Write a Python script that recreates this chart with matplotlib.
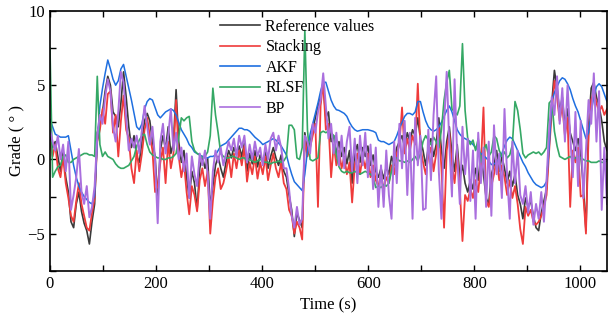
import numpy as np
import matplotlib
matplotlib.use("Agg")
import matplotlib.pyplot as plt
from matplotlib.ticker import MultipleLocator

plt.rcParams['font.family'] = ['Liberation Serif', 'DejaVu Serif']

# Values, one sample about every 5 s (0 .. 1050 s)
reference = [
    1.5, 0.8, 1.2, 0.2, -0.8, 0.5, -1.2, -2.2, -4.2, -4.6,
    -3.0, -2.2, -3.5, -4.3, -4.8, -5.7, -4.2, -3.0, 1.8, 2.6,
    3.2, 4.6, 5.6, 5.0, 3.2, 2.9, 2.2, 3.8, 5.9, 4.2,
    2.2, 0.8, 1.6, 0.2, -0.2, 1.2, 2.6, 3.1, 2.6, 1.2,
    0.2, -2.6, 0.6, 1.6, 0.7, 2.2, 0.4, 1.1, 4.7, 1.2,
    -0.2, 0.6, -1.2, -2.6, -0.8, -1.6, -3.4, -0.6, 0.2, -0.6,
    0.1, -3.2, -1.8, -0.4, 0.2, -0.6, -1.2, -0.2, 0.6, 0.1,
    0.8, 0.3, 0.9, 0.2, 1.1, -0.8, 0.4, -0.3, 0.6, -0.5,
    0.3, -0.2, 0.5, -0.6, 0.2, 0.8, 0.1, -0.4, 0.3, -0.8,
    -1.2, -2.4, -3.4, -5.2, -3.6, -4.1, -4.6, 1.8, 0.6, 1.1,
    2.0, 2.8, 3.6, 4.2, 5.0, 2.8, 3.2, 1.2, 1.6, 0.4,
    1.2, 0.2, 0.8, -0.3, 0.6, -1.6, 0.4, 1.0, -0.2, 0.8,
    0.2, 0.9, -0.4, 0.3, -0.8, -1.2, -0.6, -1.3, -0.5, -1.0,
    0.2, -0.4, 0.8, 1.2, 1.6, 0.8, 1.8, 1.2, 2.0, 1.6,
    2.8, 1.4, 0.6, -0.4, 0.8, 1.4, 0.2, 1.0, 2.8, 0.6,
    -0.6, 1.2, 2.2, 0.4, -0.8, 1.0, -1.2, -0.4, -1.6, -2.2,
    -1.4, -2.0, -0.6, -1.4, 0.4, -1.0, -2.6, -3.0, -1.0, -0.4,
    0.6, -0.8, 0.2, -0.6, -1.6, -0.8, -1.8, -1.0, -2.4, -3.0,
    -4.0, -2.6, -3.2, -2.8, -3.8, -4.6, -4.8, -3.6, -2.8, -2.0,
    1.2, 3.8, 6.0, 4.8, 3.2, 4.2, 2.2, 3.4, 1.8, 1.2,
    0.6, 1.4, 0.4, -1.8, -4.8, 2.2, 4.8, 5.2, 4.2, 3.6,
    2.6, 1.2, 0.6,
]
stacking = [
    1.2, 0.2, 1.0, -0.6, -1.2, 0.2, -1.6, -2.6, -3.8, -4.2,
    -2.8, -1.6, -3.0, -3.8, -4.6, -4.8, -3.6, -2.6, 1.2, 2.0,
    3.4, 2.4, 4.4, 4.6, 1.8, 3.0, 0.2, 2.6, 4.3, 2.0,
    1.4, -0.6, -1.6, 0.6, -0.8, 0.4, 2.0, 2.8, 1.6, 0.6,
    -2.2, -1.8, -0.2, 0.8, -1.6, 1.2, -0.6, 0.4, 4.0, 0.2,
    -1.2, -0.2, -2.2, -3.7, -1.8, -2.4, -3.5, -1.4, -0.6, -1.8,
    -0.8, -5.0, -2.8, -1.2, -0.6, -2.0, -1.6, -0.8, 0.2, -1.2,
    0.4, -0.6, 0.6, -0.4, 0.9, -1.5, -0.2, -1.0, 0.2, -1.3,
    -0.2, -1.0, 0.2, -1.4, -0.4, 0.4, -0.6, -1.2, -0.2, -1.6,
    -2.0, -3.4, -3.8, -5.0, -4.2, -4.6, -5.4, 1.4, 0.2, 0.8,
    1.6, 2.4, -3.2, 3.6, 5.2, 2.0, 2.4, -1.2, 1.0, -0.4,
    0.6, -0.6, 0.2, -1.0, -0.2, -2.9, -0.4, 0.4, -1.0, 0.2,
    -0.6, 0.4, -1.2, -0.4, -1.4, -1.8, -1.0, -2.0, -1.2, -1.6,
    -0.4, -1.0, 0.4, 1.0, 3.5, 0.4, 1.4, 0.6, 1.6, 1.0,
    5.1, 0.8, -0.2, -1.0, 0.2, 0.8, -0.8, 0.4, 2.2, -0.6,
    -4.6, 0.6, 1.8, -0.4, -1.6, 0.4, -2.0, -5.5, -2.4, -2.8,
    -2.0, -2.6, -1.4, -2.2, -0.4, 3.5, -2.8, -3.2, -1.8, -1.0,
    0.0, -1.4, -0.4, -1.2, -2.4, -1.4, -2.6, -1.8, -3.0, -4.7,
    -5.7, -3.2, -3.8, -3.4, -4.2, -4.4, -4.2, -3.8, -3.2, -2.4,
    0.6, 3.2, 5.3, 4.2, 2.6, 3.6, 1.6, 2.8, -3.2, 0.6,
    -0.2, 0.8, -2.5, -2.4, -5.0, 1.6, 4.0, 4.6, 3.8, 3.2,
    3.6, 3.0, 3.4,
]
akf = [
    2.7, 2.2, 1.7, 1.6, 1.5, 1.5, 1.5, 1.6, 0.6, -0.4,
    -1.2, -1.8, -2.2, -2.5, -2.7, -2.9, -3.0, -2.4, 1.2, 3.6,
    4.8, 5.8, 6.7, 6.1, 5.4, 5.0, 5.3, 6.1, 6.4, 5.6,
    4.8, 4.0, 3.1, 2.2, 2.0, 2.4, 3.4, 3.9, 4.1, 4.0,
    3.5, 3.0, 2.8, 3.0, 3.2, 3.3, 3.4, 3.3, 3.0, 2.5,
    2.0, 1.7, 1.4, 1.0, 0.8, 0.5, 0.4, 0.3, 0.2, 0.1,
    0.1, 0.2, 0.2, 0.3, 0.6, 0.9, 1.0, 1.1, 1.3, 1.5,
    1.7, 1.9, 2.1, 2.1, 2.0, 2.0, 1.9, 1.7, 1.5, 1.35,
    1.2, 1.0, 1.1, 1.2, 1.3, 1.4, 1.3, 1.1, 0.9, 0.6,
    0.3, -0.4, -1.0, -1.5, -1.7, -1.9, -2.1, -1.0, 0.6, 1.7,
    2.4, 3.1, 3.8, 4.6, 5.2, 5.2, 4.6, 4.0, 3.6, 3.35,
    3.3, 3.2, 3.1, 2.9, 2.5, 2.2, 2.0, 1.9, 1.95, 2.0,
    2.0, 2.0, 1.95, 1.9, 1.8, 1.3, 1.2, 1.2, 1.1, 1.0,
    1.1, 1.2, 1.6, 2.1, 2.5, 2.9, 3.1, 3.1, 3.0, 3.2,
    3.9, 3.9, 3.2, 2.6, 2.2, 2.0, 1.9, 2.0, 2.2, 2.5,
    2.9, 3.3, 3.6, 3.2, 2.6, 2.0, 1.7, 1.5, 1.4, 1.3,
    1.2, 1.0, 0.8, 0.6, 0.4, 0.25, 0.1, -0.1, -0.35, -0.3,
    -0.2, 0.1, 0.4, 0.9, 1.3, 1.5, 1.4, 1.0, 0.6, 0.2,
    -0.2, -0.5, -0.9, -1.2, -1.5, -1.7, -1.8, -1.9, -1.8, -1.5,
    0.8, 3.9, 4.5, 4.9, 5.3, 5.5, 5.4, 5.1, 4.7, 4.1,
    3.6, 3.2, 2.6, 2.0, 1.4, 1.8, 3.2, 4.2, 4.9, 5.1,
    4.9, 4.4, 3.9,
]
rlsf = [
    7.5, -1.2, -0.8, -0.5, -0.4, 0.2, 0.3, -0.2, -0.2, 0.0,
    0.1, 0.2, 0.3, 0.4, 0.4, 0.3, 0.3, 0.2, 5.6, 1.0,
    0.2, 0.5, 0.2, 0.1, 0.0, -0.3, -0.5, -0.6, -0.6, -0.5,
    -0.4, -0.1, 0.2, 0.9, 1.3, 1.6, 1.7, 1.0, 0.5, 0.3,
    0.2, 0.1, 0.1, 0.0, 0.0, 0.1, 0.1, 0.2, 0.4, 1.5,
    2.8, 2.6, 2.8, 2.9, 1.2, 0.6, 0.4, 0.3, 0.1, 0.2,
    0.5, 1.6, 4.8, 3.0, 1.8, 0.4, 0.2, 0.1, 0.1, 0.2,
    0.2, 0.1, 0.0, 0.1, 0.1, -0.1, 0.0, -0.1, -0.2, -0.1,
    0.0, -0.1, -0.2, -0.2, -0.3, -0.2, -0.2, -0.1, -0.2, -0.1,
    0.2, 2.3, 2.3, 2.0, 0.1, 0.0, 0.8, 8.7, 2.0, 0.0,
    -0.1, 0.0, 0.1, 1.8, 1.9, 1.8, 1.9, 1.8, 1.6, 0.3,
    -0.5, -0.8, -0.9, -0.8, -0.9, -0.9, -0.8, -0.9, -1.0, -0.9,
    -0.8, -0.9, -1.0, -1.2, -1.9, -1.8, -1.9, -1.7, -1.8, -1.6,
    -0.8, 0.0, 0.1, -0.1, -0.1, -0.2, -0.1, -0.2, 0.0, 0.2,
    -0.1, 0.4, 1.2, 1.6, 1.3, 1.0, 1.5, 1.2, 0.8, 2.0,
    4.0, 5.2, 6.0, 3.4, 3.2, 3.0, 3.6, 7.8, 3.3, 1.4,
    1.0, 1.3, 0.6, 1.4, -0.2, 0.6, 1.0, 0.2, 0.5, 1.6,
    1.4, 0.6, 0.2, 0.5, 0.1, 0.3, 1.0, 3.9, 3.3, 2.0,
    0.4, 0.1, 0.3, 0.4, 0.5, 0.4, 0.5, 0.3, 0.5, 0.8,
    3.8, 4.0, 1.9, 0.9, 0.2, 0.1, 0.0, 0.1, 0.2, 0.0,
    0.1, 0.2, 0.1, 0.0, -0.1, -0.1, -0.2, -0.2, -0.2, -0.1,
    -0.2, -0.2, -0.1,
]
bp = [
    2.0, 1.2, 0.6, 1.6, 0.0, 1.0, -0.8, 1.2, -3.4, -2.4,
    -1.2, 0.7, -2.2, -3.0, -1.8, -3.9, -3.2, -1.8, 1.6, 3.0,
    2.4, 4.2, 5.4, 4.6, 2.2, 1.2, 3.2, 5.9, 5.2, 2.8,
    0.6, 1.4, 0.8, 1.6, 0.4, 2.0, 3.6, 2.2, 1.0, 2.2,
    0.0, -4.3, 1.2, 2.4, 0.4, 1.6, 3.4, 0.6, 1.8, 0.0,
    0.8, -0.8, 0.4, -2.6, 0.2, -1.0, -1.8, 0.4, -0.4, 0.6,
    -1.0, -4.0, -0.8, 0.6, -0.2, 0.8, -0.4, 0.4, 1.2, 0.6,
    1.4, 0.2, 1.6, 0.8, 1.6, -0.2, 1.0, 0.0, 1.2, 0.2,
    0.8, -0.4, 1.0, 0.0, 1.4, 1.8, 0.6, 1.6, 0.8, -0.6,
    -0.6, -2.0, -3.8, -4.6, -3.2, -4.4, -4.0, 1.6, 1.2, 0.4,
    2.4, 1.8, 3.2, 4.0, 5.8, 3.6, 1.4, 2.4, 0.4, 1.8,
    -0.4, 1.6, -0.6, 1.2, 2.2, -0.8, 1.4, -1.6, 1.6, -0.4,
    1.8, -1.2, 1.0, -2.0, 0.8, -3.2, -0.4, -3.2, 0.6, -2.4,
    -4.0, 1.2, -1.6, 2.4, -0.6, 2.6, -2.4, 1.8, -4.0, 2.8,
    -0.4, 1.6, -3.4, -3.3, 2.0, -1.4, 3.0, 5.6, -0.8, -4.0,
    2.4, 5.9, 1.0, -2.5, 5.4, 0.2, -3.0, 2.2, -1.0, 1.4,
    -2.8, 0.6, -4.0, 1.8, -1.6, 0.8, -3.2, 1.2, -3.8, 2.3,
    -1.0, 0.4, -2.6, 3.4, -1.2, -4.0, 1.2, -1.6, 0.6, -2.4,
    -3.0, -1.8, -3.6, -2.2, -4.4, -3.0, -4.0, -2.2, -4.2, -1.4,
    2.0, 4.2, 3.0, 5.6, 2.4, 4.8, 1.2, 5.0, 1.6, -1.2,
    3.2, -1.8, 2.6, -2.6, 0.6, 4.0, 2.4, 5.8, 1.2, 4.6,
    -3.4, 0.8, -3.0,
]

time = np.linspace(0, 1050, len(reference))

series = [
    ("Reference values", reference, "#3a3a3a", 1.2),
    ("Stacking", stacking, "#ef3b3b", 1.3),
    ("AKF", akf, "#1f6fe0", 1.1),
    ("RLSF", rlsf, "#35a865", 1.2),
    ("BP", bp, "#aa6fde", 1.4),
]

fig = plt.figure(figsize=(6.08, 3.24), dpi=100)
ax = fig.add_axes([0.0822, 0.1645, 0.9161, 0.8015])

for name, vals, color, lw in series:
    ax.plot(time, vals, color=color, lw=lw, label=name)

ax.set_xlim(0, 1050)
ax.set_ylim(-7.5, 10)
ax.xaxis.set_major_locator(MultipleLocator(200))
ax.xaxis.set_minor_locator(MultipleLocator(100))
ax.yaxis.set_major_locator(MultipleLocator(5))
ax.yaxis.set_minor_locator(MultipleLocator(2.5))
ax.tick_params(which='both', direction='in', top=True, right=True, labelsize=12)
ax.tick_params(which='major', length=4, width=1)
ax.tick_params(which='minor', length=4, width=1)
for sp in ax.spines.values():
    sp.set_linewidth(1.2)

ax.set_xlabel("Time (s)", fontsize=12, labelpad=4)
ax.set_ylabel("Grade ( ° )", fontsize=12, labelpad=2)

leg = ax.legend(loc='upper left', bbox_to_anchor=(0.305, 0.97), frameon=False,
                fontsize=11.5, handlelength=2.5, handletextpad=0.35,
                labelspacing=0.28, borderpad=0, borderaxespad=0)
for h in leg.get_lines():
    h.set_linewidth(1.2)

fig.savefig("out.png", dpi=100)
